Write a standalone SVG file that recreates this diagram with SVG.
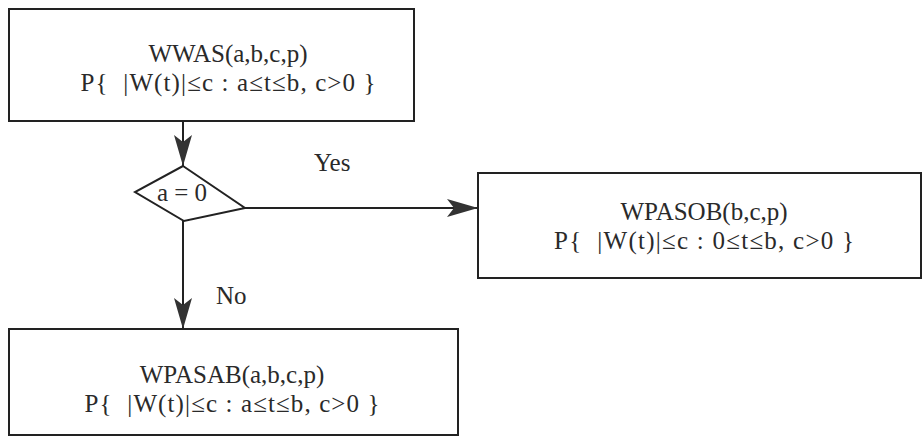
<svg xmlns="http://www.w3.org/2000/svg" width="924" height="438" viewBox="0 0 924 438">
<style>
.box{fill:#fff;stroke:#222;stroke-width:2}
.t{font-family:"Liberation Serif","Times New Roman",serif;font-size:25px;fill:#2a2a2a;text-anchor:middle}
.l{font-family:"Liberation Serif","Times New Roman",serif;font-size:25px;fill:#2a2a2a}
.c{stroke:#222;stroke-width:2;fill:none}
</style>
<defs>
<marker id="ah" markerWidth="32" markerHeight="18" refX="31" refY="9" orient="auto" markerUnits="userSpaceOnUse">
<path d="M0,0 L31,9 L0,18 L7,9 Z" fill="#333"/>
</marker>
</defs>
<rect width="924" height="438" fill="#fff"/>
<g id="connectors">
<line class="c" x1="183" y1="121" x2="183" y2="166" marker-end="url(#ah)"/>
<line class="c" x1="244" y1="208" x2="478" y2="208" marker-end="url(#ah)"/>
<line class="c" x1="183" y1="221" x2="183" y2="329" marker-end="url(#ah)"/>
<text class="l" x="314" y="171">Yes</text>
<text class="l" x="216" y="304">No</text>
</g>
<g id="wwas">
<rect class="box" x="9" y="9" width="405" height="112"/>
<text class="t" x="228" y="62">WWAS(a,b,c,p)</text>
<text class="t" x="228" y="91" xml:space="preserve" textLength="295" lengthAdjust="spacing">P{  |W(t)|≤c : a≤t≤b, c&gt;0 }</text>
</g>
<g id="decision">
<path class="box" d="M183,166 L245,208 L184,221 L135,192 Z"/>
<text class="t" x="182" y="201">a = 0</text>
</g>
<g id="wpasob">
<rect class="box" x="478" y="173" width="443" height="105"/>
<text class="t" x="704" y="220">WPASOB(b,c,p)</text>
<text class="t" x="704" y="249" xml:space="preserve" textLength="300" lengthAdjust="spacing">P{  |W(t)|≤c : 0≤t≤b, c&gt;0 }</text>
</g>
<g id="wpasab">
<rect class="box" x="9" y="329" width="449" height="106"/>
<text class="t" x="232" y="383">WPASAB(a,b,c,p)</text>
<text class="t" x="232" y="412" xml:space="preserve" textLength="295" lengthAdjust="spacing">P{  |W(t)|≤c : a≤t≤b, c&gt;0 }</text>
</g>
</svg>
